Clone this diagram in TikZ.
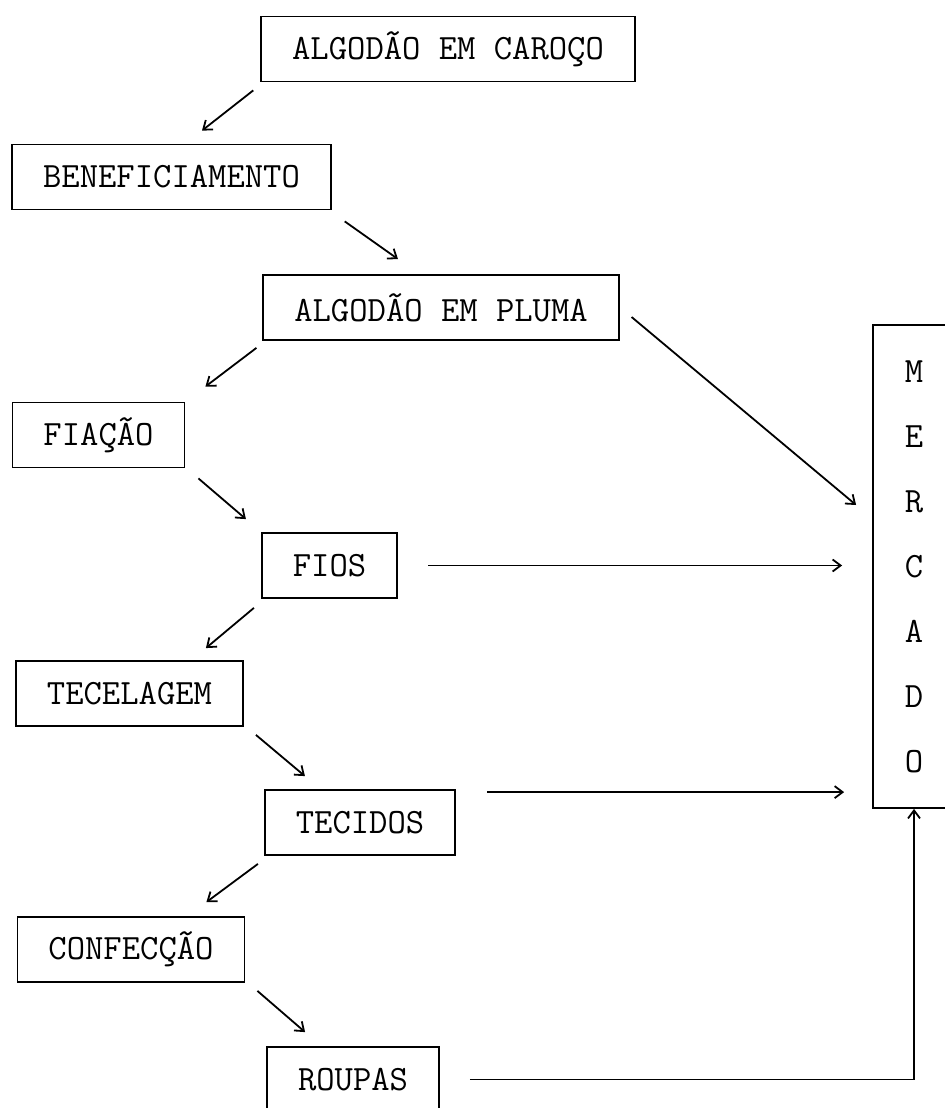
\documentclass[tikz,border=0pt]{standalone}
\usepackage{tikz}
\usetikzlibrary{arrows.meta,calc}

\begin{document}
\begin{tikzpicture}[
    x=0.5pt, y=-0.5pt,
    stagebox/.style={rectangle, draw=black, line width=0.9pt, align=center, inner xsep=15.5pt, inner ysep=0pt, minimum height=32.5pt, font=\fontsize{17.8}{20}\selectfont\ttfamily},
    marketbox/.style={rectangle, draw=black, line width=0.9pt, align=center, minimum width=41pt, minimum height=241.5pt, font=\fontsize{17.8}{32.5}\selectfont\ttfamily},
    arrow/.style={-{Straight Barb[length=4pt,width=6pt]}, line width=0.9pt, draw=black}
]
    \useasboundingbox (0,0) rectangle (945,1108);

    \node [stagebox] (caroco) at (448,49) {ALGODÃO EM CAROÇO};
    \node [stagebox] (benef) at (171.5,177) {BENEFICIAMENTO};
    \node [stagebox] (pluma) at (441,307.5) {ALGODÃO EM PLUMA};
    \node [stagebox] (fiacao) at (98.5,435) {FIAÇÃO};
    \node [stagebox] (fios) at (329.5,565.5) {FIOS};
    \node [stagebox] (tecelagem) at (129.5,693.5) {TECELAGEM};
    \node [stagebox] (tecidos) at (360,822.5) {TECIDOS};
    \node [stagebox] (confeccao) at (131,949.5) {CONFECÇÃO};
    \node [stagebox] (roupas) at (353,1079.5) {ROUPAS};
    \node [marketbox] (mercado) at (914,566.5) {M\\E\\R\\C\\A\\D\\O};

    % cadeia produtiva
    \draw [arrow] ($(caroco.south west)+(-7,8)$) -- ($(benef.north)+(30.5,-13)$);
    \draw [arrow] ($(benef.south east)+(13,11)$) -- ($(pluma.north)+(-43,-15)$);
    \draw [arrow] ($(pluma.south west)+(-6,7)$) -- ($(fiacao.north east)+(20,-15)$);
    \draw [arrow] ($(fiacao.south east)+(13,10)$) -- ($(fios.north west)+(-15,-13)$);
    \draw [arrow] ($(fios.south west)+(-7,9)$) -- ($(tecelagem.north east)+(-38,-12)$);
    \draw [arrow] ($(tecelagem.south east)+(12,8)$) -- ($(tecidos.north west)+(41,-13)$);
    \draw [arrow] ($(tecidos.south west)+(-6,8)$) -- ($(confeccao.north east)+(-39,-14)$);
    \draw [arrow] ($(confeccao.south east)+(12,8)$) -- ($(roupas.north west)+(39,-14)$);

    % para o mercado
    \draw [arrow] ($(pluma.east)+(12,9.5)$) -- ($(mercado.west)+(-16,-61.5)$);
    \draw [arrow] ($(fios.east)+(30,0)$) -- ($(fios.east -| mercado.west)+(-30,0)$);
    \draw [arrow] ($(tecidos.north east)+(31,3)$) -- ($(tecidos.north east -| mercado.west)+(-28,3)$);
    \draw [arrow] ($(roupas.east)+(30,0)$) -| (mercado.south);
\end{tikzpicture}
\end{document}
